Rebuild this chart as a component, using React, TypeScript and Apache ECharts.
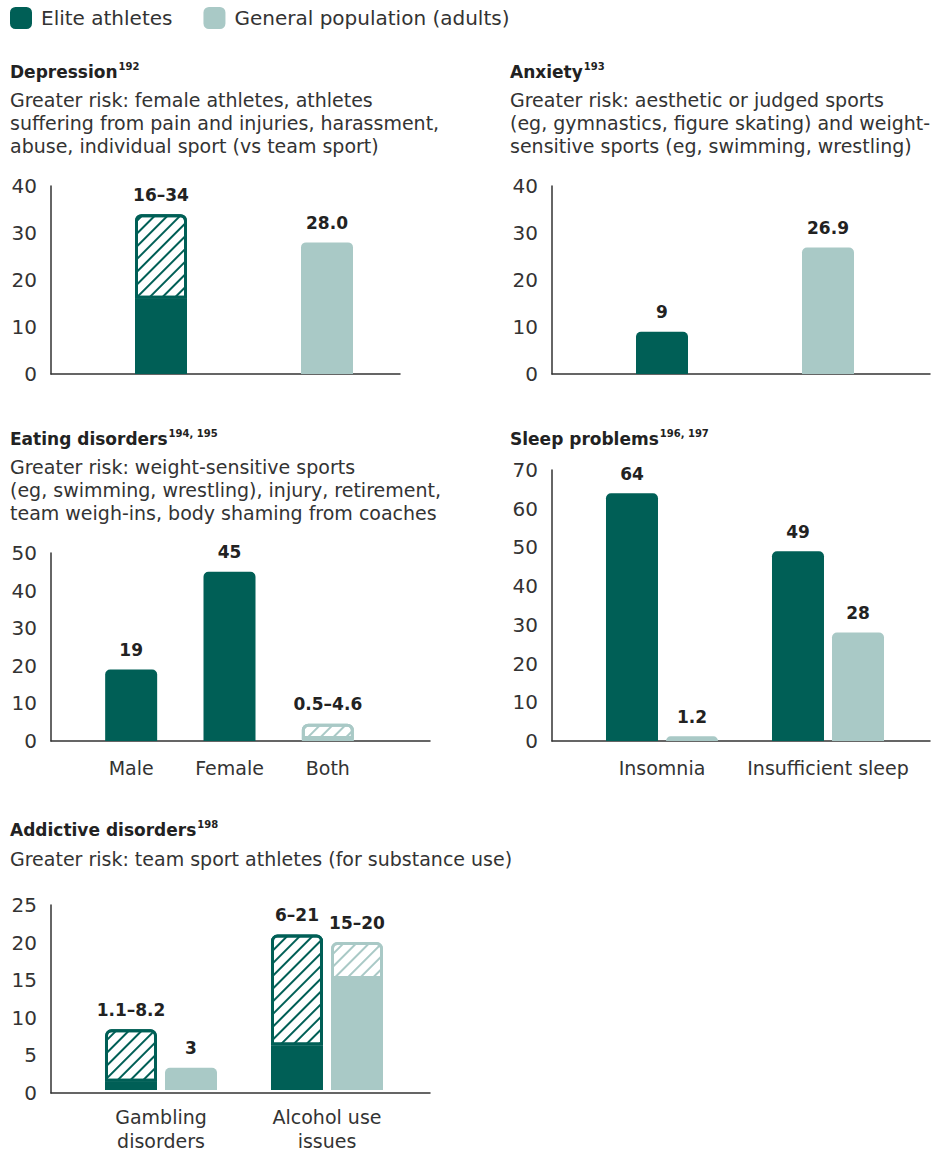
import React, { useEffect, useRef } from 'react';
import * as echarts from 'echarts';

const DARK = '#005f56';
const LIGHT = '#a9c9c6';
const TEXT = '#333333';
const LABEL = '#222222';
const FONT = 'DejaVu Sans';

// Legend
const legendNames = ['Elite athletes', 'General population (adults)'];

// Depression
const depCategories = ['Elite athletes', 'General population'];
const depLow = [16, 28.0];
const depHigh: (number | null)[] = [34, null];
const depLabels = ['16–34', '28.0'];
const depColors = [DARK, LIGHT];

// Anxiety
const anxCategories = ['Elite athletes', 'General population'];
const anxLow = [9, 26.9];
const anxHigh: (number | null)[] = [null, null];
const anxLabels = ['9', '26.9'];
const anxColors = [DARK, LIGHT];

// Eating disorders
const eatCategories = ['Male', 'Female', 'Both'];
const eatLow = [19, 45, 0.5];
const eatHigh: (number | null)[] = [null, null, 4.6];
const eatLabels = ['19', '45', '0.5–4.6'];
const eatColors = [DARK, DARK, LIGHT];

// Sleep problems
const sleepCategories = ['Insomnia', 'Insufficient sleep'];
const sleepEliteLow = [64, 49];
const sleepEliteHigh: (number | null)[] = [null, null];
const sleepEliteLabels = ['64', '49'];
const sleepGenLow = [1.2, 28];
const sleepGenHigh: (number | null)[] = [null, null];
const sleepGenLabels = ['1.2', '28'];

// Addictive disorders
const addCategories = ['Gambling\ndisorders', 'Alcohol use\nissues'];
const addEliteLow = [1.1, 6];
const addEliteHigh: (number | null)[] = [8.2, 21];
const addEliteLabels = ['1.1–8.2', '6–21'];
const addGenLow = [3, 15];
const addGenHigh: (number | null)[] = [null, 20];
const addGenLabels = ['3', '15–20'];

// Axis ranges
const yAxes = [
  { max: 40, interval: 10 },
  { max: 40, interval: 10 },
  { max: 50, interval: 10 },
  { max: 70, interval: 10 },
  { max: 25, interval: 5 },
];

const valueLabel = (text: string, show: boolean) => ({
  show,
  position: 'top',
  distance: 11,
  formatter: text,
  fontFamily: FONT,
  fontSize: 17,
  fontWeight: 'bold',
  color: LABEL,
});

function hatchDecal(color: string) {
  return {
    symbol: 'rect',
    symbolSize: 1,
    color,
    dashArrayX: [1, 0],
    dashArrayY: [2, 6.5],
    rotation: -Math.PI / 4,
  };
}

function buildStack(
  name: string,
  axisIdx: number,
  stack: string,
  low: number[],
  high: (number | null)[],
  labels: string[],
  colors: string[],
) {
  const solid = {
    name,
    type: 'bar',
    xAxisIndex: axisIdx,
    yAxisIndex: axisIdx,
    stack,
    barWidth: 52,
    barGap: '15.4%',
    itemStyle: { color: colors[0] },
    data: low.map((v, i) => ({
      value: v,
      itemStyle: {
        color: colors[i],
        borderRadius: high[i] == null ? [5, 5, 0, 0] : 0,
      },
      label: valueLabel(labels[i], high[i] == null),
    })),
  };
  const hatch = {
    name: name + ' range',
    type: 'bar',
    xAxisIndex: axisIdx,
    yAxisIndex: axisIdx,
    stack,
    barWidth: 52,
    barGap: '15.4%',
    data: high.map((h, i) =>
      h == null
        ? '-'
        : {
            value: h - low[i],
            itemStyle: {
              color: '#ffffff',
              borderColor: colors[i],
              borderWidth: 3,
              borderRadius: [5, 5, 0, 0],
              decal: hatchDecal(colors[i]),
            },
            label: valueLabel(labels[i], true),
          },
    ),
  };
  return [solid, hatch];
}

const frames = [
  { left: 51, top: 186, width: 349, height: 188 },
  { left: 552, top: 186, width: 378, height: 188 },
  { left: 51, top: 553, width: 379, height: 188 },
  { left: 552, top: 470, width: 378, height: 271 },
  { left: 51, top: 905, width: 379, height: 188 },
];
const barGrids = [
  { left: 78, top: 186, width: 332, height: 188 },
  { left: 579, top: 186, width: 332, height: 188 },
  { left: 82, top: 553, width: 295, height: 188 },
  { left: 579, top: 470, width: 332, height: 271 },
  { left: 78, top: 905, width: 332, height: 188 },
];
const barCategories = [depCategories, anxCategories, eatCategories, sleepCategories, addCategories];
const showCatLabels = [false, false, true, true, true];

function titleText(x: number, cy: number, main: string, sup: string) {
  return {
    type: 'text',
    left: x,
    top: cy - 11,
    style: {
      text: `{t|${main}}{s|${sup}}`,
      rich: {
        t: { font: `bold 17px "${FONT}"`, fill: LABEL, lineHeight: 22 },
        s: { font: `bold 10px "${FONT}"`, fill: LABEL, lineHeight: 14, verticalAlign: 'top', padding: [0, 0, 0, 1] },
      },
    },
  };
}

function subText(x: number, cy: number, lines: string[]) {
  return {
    type: 'text',
    left: x,
    top: cy - 11.5,
    style: {
      text: lines.join('\n'),
      font: `19px "${FONT}"`,
      fill: TEXT,
      lineHeight: 23,
    },
  };
}

export default function App() {
  const ref = useRef<HTMLDivElement>(null);
  useEffect(() => {
    document.body.style.margin = '0';
    const chart = echarts.init(ref.current!, null, { renderer: 'svg' });
    const grid: any[] = [];
    const xAxis: any[] = [];
    const yAxis: any[] = [];
    for (let p = 0; p < 5; p++) {
      grid.push({ ...frames[p], containLabel: false });
      grid.push({ ...barGrids[p], containLabel: false });
      xAxis.push({
        gridIndex: 2 * p,
        type: 'category',
        data: [''],
        axisLine: { lineStyle: { color: '#333', width: 1.5 } },
        axisTick: { show: false },
        axisLabel: { show: false },
      });
      xAxis.push({
        gridIndex: 2 * p + 1,
        type: 'category',
        data: barCategories[p],
        axisLine: { show: false },
        axisTick: { show: false },
        axisLabel: {
          show: showCatLabels[p],
          fontFamily: FONT,
          fontSize: 19,
          color: TEXT,
          margin: 15,
          lineHeight: 24,
          interval: 0,
        },
      });
      yAxis.push({
        gridIndex: 2 * p,
        type: 'value',
        min: 0,
        max: yAxes[p].max,
        interval: yAxes[p].interval,
        axisLine: { show: true, lineStyle: { color: '#333', width: 1.5 } },
        axisTick: { show: false },
        splitLine: { show: false },
        axisLabel: { fontFamily: FONT, fontSize: 20, color: TEXT, margin: 14 },
      });
      yAxis.push({
        gridIndex: 2 * p + 1,
        type: 'value',
        min: 0,
        max: yAxes[p].max,
        interval: yAxes[p].interval,
        show: false,
      });
    }
    const series: any[] = [
      ...buildStack('dep', 1, 'dep', depLow, depHigh, depLabels, depColors),
      ...buildStack('anx', 3, 'anx', anxLow, anxHigh, anxLabels, anxColors),
      ...buildStack('eat', 5, 'eat', eatLow, eatHigh, eatLabels, eatColors),
      ...buildStack(legendNames[0], 7, 'sleepE', sleepEliteLow, sleepEliteHigh, sleepEliteLabels, [DARK, DARK]),
      ...buildStack(legendNames[1], 7, 'sleepG', sleepGenLow, sleepGenHigh, sleepGenLabels, [LIGHT, LIGHT]),
      ...buildStack('addE', 9, 'addE', addEliteLow, addEliteHigh, addEliteLabels, [DARK, DARK]),
      ...buildStack('addG', 9, 'addG', addGenLow, addGenHigh, addGenLabels, [LIGHT, LIGHT]),
    ];
    chart.setOption({
      animation: false,
      backgroundColor: '#ffffff',
      textStyle: { fontFamily: FONT },
      legend: {
        left: 10,
        top: 7,
        padding: 0,
        icon: 'roundRect',
        itemWidth: 22,
        itemHeight: 22,
        itemGap: 31,
        selectedMode: false,
        textStyle: { fontFamily: FONT, fontSize: 20, color: TEXT, padding: [0, 0, 0, 4] },
        data: [
          { name: legendNames[0], itemStyle: { color: DARK } },
          { name: legendNames[1], itemStyle: { color: LIGHT } },
        ],
      },
      grid,
      xAxis,
      yAxis,
      series,
      graphic: [
        titleText(10, 72, 'Depression', '192'),
        subText(10, 100, [
          'Greater risk: female athletes, athletes',
          'suffering from pain and injuries, harassment,',
          'abuse, individual sport (vs team sport)',
        ]),
        titleText(510, 72, 'Anxiety', '193'),
        subText(510, 100, [
          'Greater risk: aesthetic or judged sports',
          '(eg, gymnastics, figure skating) and weight-',
          'sensitive sports (eg, swimming, wrestling)',
        ]),
        titleText(10, 439, 'Eating disorders', '194, 195'),
        subText(10, 467, [
          'Greater risk: weight-sensitive sports',
          '(eg, swimming, wrestling), injury, retirement,',
          'team weigh-ins, body shaming from coaches',
        ]),
        titleText(510, 439, 'Sleep problems', '196, 197'),
        titleText(10, 830, 'Addictive disorders', '198'),
        subText(10, 859, ['Greater risk: team sport athletes (for substance use)']),
      ],
    });
    return () => chart.dispose();
  }, []);
  return (
    <div
      ref={ref}
      style={{ position: 'absolute', left: 0, top: 0, width: 949, height: 1153 }}
    />
  );
}
